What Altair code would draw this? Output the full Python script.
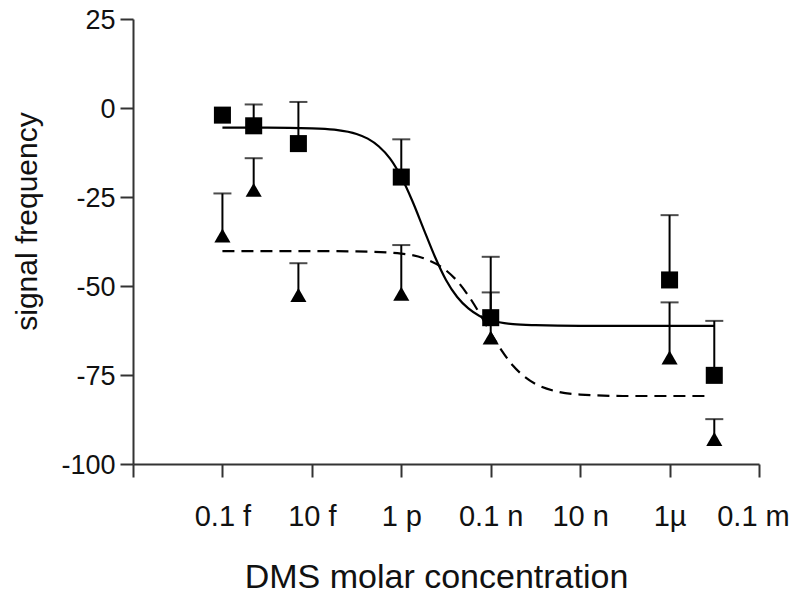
import altair as alt
import pandas as pd

# ---- data ----
concentrations = [1e-16, 5e-16, 5e-15, 1e-12, 1e-10, 1e-6, 1e-5]
square_mean = [-2.0, -5.0, -10.0, -19.4, -58.9, -48.3, -75.1]
square_err = [0.0, 6.0, 11.7, 10.6, 17.1, 18.2, 15.3]
triangle_mean = [-35.8, -23.0, -52.5, -52.2, -64.5, -70.1, -93.0]
triangle_err = [11.8, 8.9, 8.9, 13.7, 12.7, 15.5, 5.6]

# fitted curves, points (log10 of molar concentration)
solid_log_x = [-16, -15, -14, -13.5, -13, -12.75, -12.5, -12.25, -12, -11.75, -11.5,
               -11.25, -11, -10.75, -10.5, -10.25, -10, -9.5, -9, -8, -7, -6, -5.0]
solid_y = [-5.5, -5.5, -5.7, -6.1, -7.3, -8.6, -10.8, -14.2, -19.4, -26.2, -34.0,
           -41.7, -48.3, -53.1, -56.3, -58.4, -59.6, -60.7, -61.0, -61.2, -61.2, -61.2, -61.2]
dashed_log_x = [-16, -14, -13, -12, -11.5, -11, -10.75, -10.5, -10.25, -10, -9.75,
                -9.5, -9.25, -9, -8.5, -8, -7, -6, -5.15]
dashed_y = [-40.2, -40.2, -40.3, -40.9, -42.2, -45.6, -48.6, -52.7, -57.7, -63.2, -68.2,
            -72.4, -75.4, -77.5, -79.7, -80.5, -80.9, -80.9, -80.9]

x_tick_values = [1e-18, 1e-16, 1e-14, 1e-12, 1e-10, 1e-8, 1e-6, 1e-4]
x_tick_exps = [-18, -16, -14, -12, -10, -8, -6, -4]
x_tick_labels = ["", "0.1 f", "10 f", "1 p", "0.1 n", "10 n", "1µ", "0.1 m"]
y_tick_values = [-100, -75, -50, -25, 0, 25]

FONT = "Liberation Sans"

# ---- tables ----
points = pd.DataFrame({
    "conc": concentrations * 2,
    "mean": square_mean + triangle_mean,
    "err": square_err + triangle_err,
    "series": ["square"] * len(concentrations) + ["triangle"] * len(concentrations),
})
points["top"] = points["mean"] + points["err"]
bars = points[points["err"] > 0]

solid = pd.DataFrame({"conc": [10 ** v for v in solid_log_x], "value": solid_y})
dashed = pd.DataFrame({"conc": [10 ** v for v in dashed_log_x], "value": dashed_y})

label_expr = ""
for e, lab in zip(x_tick_exps, x_tick_labels):
    label_expr += f"round(log(datum.value)/LN10) == {e} ? '{lab}' : "
label_expr += "''"

x_scale = alt.Scale(type="log", domain=[1e-18, 1e-4], nice=False)
y_scale = alt.Scale(domain=[-100, 25], nice=False, zero=False)

x_axis = alt.Axis(
    values=x_tick_values, labelExpr=label_expr, title="DMS molar concentration",
    grid=False, tickSize=13, tickWidth=2, domainWidth=2,
    domainColor="#333", tickColor="#333", labelColor="#111", titleColor="#111",
    labelFont=FONT, labelFontSize=29, labelPadding=25, labelFlush=False,
    labelOffset={"condition": {"test": "datum.value > 1e-5", "value": -6}, "value": 0},
    labelOverlap=False, titleFont=FONT, titleFontSize=34, titleFontWeight="normal",
    titleX=303, titleY=123, titleBaseline="alphabetic", titleAlign="center",
)
y_axis = alt.Axis(
    values=y_tick_values, labelExpr="'' + datum.value", title="signal frequency",
    grid=False, tickSize=13, tickWidth=2, domainWidth=2,
    domainColor="#333", tickColor="#333", labelColor="#111", titleColor="#111",
    labelFont=FONT, labelFontSize=27, labelPadding=5, labelFlush=False, labelOffset=1,
    labelOverlap=False, titleFont=FONT, titleFontSize=30, titleFontWeight="normal",
    titleX=-97, titleY=202, titleBaseline="alphabetic", titleAlign="center",
    titleAngle=270,
)

X = alt.X("conc:Q", scale=x_scale, axis=x_axis)

solid_line = alt.Chart(solid).mark_line(
    color="black", strokeWidth=2.2, interpolate="monotone"
).encode(x=X, y=alt.Y("value:Q", scale=y_scale, axis=y_axis))

dashed_line = alt.Chart(dashed).mark_line(
    color="black", strokeWidth=2.2, strokeDash=[12, 7], interpolate="monotone"
).encode(x=X, y=alt.Y("value:Q", scale=y_scale, axis=y_axis))

stems = alt.Chart(bars).mark_rule(color="black", strokeWidth=2).encode(
    x=X, y=alt.Y("mean:Q", scale=y_scale, axis=y_axis), y2="top:Q"
)
caps = alt.Chart(bars).mark_tick(
    color="black", orient="horizontal", size=18, thickness=2
).encode(x=X, y=alt.Y("top:Q", scale=y_scale, axis=y_axis))

squares = alt.Chart(points[points["series"] == "square"]).mark_point(
    shape="square", filled=True, color="black", size=290, opacity=1
).encode(x=X, y=alt.Y("mean:Q", scale=y_scale, axis=y_axis))

triangles = alt.Chart(points[points["series"] == "triangle"]).mark_point(
    shape="triangle-up", filled=True, color="black", size=260, opacity=1
).encode(x=X, y=alt.Y("mean:Q", scale=y_scale, axis=y_axis))

chart = alt.layer(solid_line, dashed_line, stems, caps, squares, triangles).properties(
    width=626, height=445,
    autosize=alt.AutoSizeParams(type="none"),
    padding={"left": 125, "top": 11, "right": 33, "bottom": 131},
    background="white",
).configure_view(stroke=None)

chart.save("out.html", embed_options={"renderer": "svg", "actions": False})
